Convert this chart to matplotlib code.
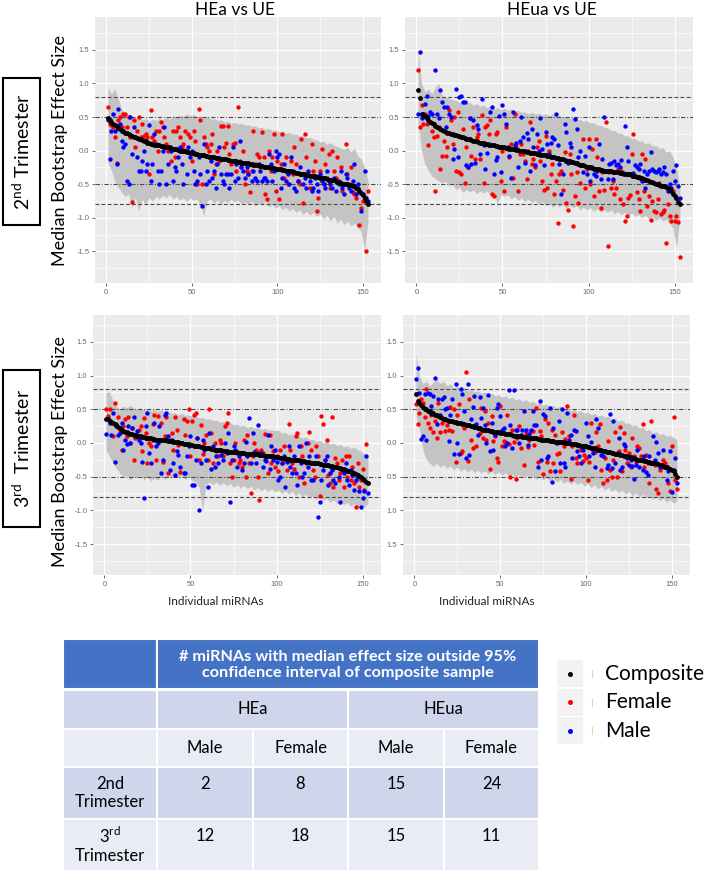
import matplotlib.pyplot as plt
import numpy as np
from matplotlib.patches import Rectangle

plt.rcParams['font.family'] = ['Lato', 'DejaVu Sans']

W, H = 709, 872

# ---- data ----
idx = np.arange(1, 154)
band_x = idx[::2]

comp_a = [0.48, 0.45, 0.42, 0.40, 0.38, 0.36, 0.34, 0.32, 0.30, 0.29,
          0.27, 0.26, 0.25, 0.23, 0.22, 0.21, 0.20, 0.19, 0.18, 0.17,
          0.16, 0.15, 0.14, 0.12, 0.11, 0.10, 0.10, 0.09, 0.09, 0.08,
          0.08, 0.07, 0.07, 0.06, 0.05, 0.05, 0.04, 0.04, 0.03, 0.02,
          0.02, 0.01, 0.00, 0.00, -0.01, -0.01, -0.02, -0.02, -0.03, -0.04,
          -0.04, -0.05, -0.05, -0.06, -0.06, -0.07, -0.07, -0.08, -0.08, -0.09,
          -0.09, -0.10, -0.10, -0.11, -0.11, -0.11, -0.12, -0.12, -0.13, -0.13,
          -0.14, -0.14, -0.15, -0.15, -0.16, -0.16, -0.17, -0.17, -0.18, -0.18,
          -0.19, -0.19, -0.19, -0.20, -0.20, -0.21, -0.21, -0.22, -0.22, -0.23,
          -0.23, -0.24, -0.24, -0.25, -0.25, -0.26, -0.26, -0.26, -0.27, -0.27,
          -0.28, -0.28, -0.29, -0.29, -0.30, -0.30, -0.31, -0.31, -0.32, -0.32,
          -0.33, -0.33, -0.34, -0.34, -0.35, -0.35, -0.36, -0.36, -0.37, -0.37,
          -0.38, -0.38, -0.39, -0.39, -0.40, -0.40, -0.41, -0.41, -0.42, -0.43,
          -0.43, -0.44, -0.44, -0.45, -0.46, -0.47, -0.48, -0.49, -0.49, -0.50,
          -0.50, -0.51, -0.51, -0.52, -0.53, -0.55, -0.57, -0.60, -0.63, -0.66,
          -0.70, -0.75, -0.80]
hi_a = [0.95, 0.85, 0.92, 0.78, 0.62, 0.55, 0.52, 0.50, 0.47, 0.50,
        0.46, 0.48, 0.44, 0.47, 0.45, 0.48, 0.46, 0.50, 0.47, 0.52,
        0.50, 0.53, 0.51, 0.55, 0.52, 0.54, 0.50, 0.52, 0.49, 0.51,
        0.47, 0.48, 0.45, 0.46, 0.43, 0.44, 0.41, 0.42, 0.40, 0.41,
        0.38, 0.39, 0.36, 0.37, 0.34, 0.35, 0.32, 0.33, 0.30, 0.31,
        0.28, 0.29, 0.26, 0.27, 0.24, 0.25, 0.22, 0.22, 0.19, 0.20,
        0.17, 0.16, 0.13, 0.14, 0.10, 0.12, 0.08, 0.06, 0.04, 0.02,
        0.05, -0.02, 0.04, -0.08, -0.12, -0.25, -0.45]
lo_a = [-0.18, -0.30, -0.45, -0.55, -0.62, -0.68, -0.65, -0.85, -0.70, -0.90,
        -0.72, -0.80, -0.70, -0.75, -0.68, -0.72, -0.66, -0.70, -0.65, -0.72,
        -0.68, -0.74, -0.70, -0.76, -0.70, -0.74, -0.72, -0.80, -0.97, -0.75,
        -0.72, -0.78, -0.73, -0.80, -0.74, -0.78, -0.72, -0.76, -0.74, -0.80,
        -0.76, -0.80, -0.75, -0.82, -0.78, -0.80, -0.76, -0.84, -0.80, -0.86,
        -0.82, -0.88, -0.84, -0.90, -0.86, -0.92, -0.88, -0.95, -0.90, -0.96,
        -0.92, -0.98, -0.94, -1.02, -0.96, -1.05, -0.98, -1.08, -1.02, -1.10,
        -1.05, -1.12, -1.08, -1.15, -1.20, -1.50, -1.05]
fem_a = [0.65, 0.40, 0.38, 0.35, 0.20, -0.18, 0.45, 0.50, 0.35, 0.55,
         0.55, 0.35, 0.50, 0.20, -0.77, 0.45, 0.05, 0.30, 0.50, 0.20,
         0.40, 0.22, 0.25, 0.20, -0.35, 0.60, 0.20, 0.15, 0.30, 0.00,
         0.30, 0.42, 0.35, 0.20, 0.10, 0.00, 0.05, -0.15, 0.30, -0.10,
         0.30, 0.35, 0.20, 0.05, 0.10, 0.30, 0.00, 0.25, 0.20, -0.15,
         0.30, 0.15, -0.50, 0.62, 0.45, -0.50, 0.20, 0.10, 0.05, 0.00,
         0.10, 0.25, -0.35, -0.20, 0.00, -0.15, 0.36, 0.36, 0.05, 0.12,
         0.36, -0.05, -0.20, 0.10, 0.12, -0.30, 0.65, -0.15, -0.25, 0.00,
         -0.50, -0.30, -0.35, -0.62, -0.30, 0.30, -0.20, -0.05, -0.10, -0.25,
         0.28, -0.10, -0.65, -0.72, 0.00, -0.30, -0.10, 0.25, -0.60, -0.15,
         -0.72, -0.20, 0.25, -0.40, -0.10, -0.50, -0.30, -0.15, -0.35, 0.05,
         -0.20, -0.45, -0.50, 0.18, -0.78, 0.25, -0.10, -0.35, -0.55, 0.10,
         -0.30, -0.15, -0.90, -0.70, -0.30, 0.02, -0.50, -0.20, -0.40, -0.05,
         -0.55, 0.00, -0.30, -0.40, -0.10, -0.45, -0.25, -0.60, -0.50, 0.10,
         -0.35, -0.50, -0.25, -0.62, -0.65, -0.70, -0.55, -1.10, -0.85, -0.75,
         -0.72, -1.50, -0.60]
male_a = [0.45, -0.12, 0.30, 0.55, 0.30, -0.20, 0.62, 0.40, 0.15, 0.05,
          0.10, -0.45, -0.50, 0.50, -0.05, 0.35, 0.20, -0.10, -0.30, -0.30,
          -0.15, 0.00, -0.30, -0.20, 0.38, -0.45, -0.20, 0.25, 0.10, -0.30,
          -0.50, -0.30, 0.00, 0.35, -0.50, -0.20, 0.05, 0.00, -0.45, -0.25,
          -0.30, -0.10, 0.05, -0.20, -0.50, 0.00, -0.35, 0.05, -0.10, 0.00,
          -0.30, -0.50, -0.45, -0.10, -0.35, -0.82, 0.10, -0.50, -0.30, -0.45,
          -0.15, -0.40, -0.30, -0.55, -0.20, 0.05, -0.35, -0.45, -0.50, -0.35,
          -0.35, -0.55, -0.35, 0.05, -0.45, -0.20, -0.40, 0.15, -0.25, -0.30,
          -0.40, -0.25, -0.35, -0.20, -0.45, -0.30, -0.40, -0.45, -0.20, -0.30,
          -0.45, -0.40, -0.40, -0.45, -0.05, -0.20, -0.45, -0.30, 0.00, -0.10,
          -0.05, -0.55, -0.40, -0.20, -0.45, -0.35, -0.50, -0.10, -0.30, -0.55,
          -0.60, -0.45, -0.25, -0.35, -0.50, -0.40, -0.55, -0.30, -0.45, -0.60,
          -0.55, -0.40, -0.50, -0.60, -0.35, -0.45, -0.50, -0.55, -0.30, -0.45,
          -0.50, -0.55, -0.40, -0.60, -0.45, -0.50, -0.30, -0.55, -0.65, -0.35,
          -0.40, -0.55, -0.60, -0.45, -0.20, -0.65, -0.50, -0.60, -0.90, -0.65,
          -0.30, -0.70, -0.75]

comp_b = [0.90, 0.78, 0.55, 0.53, 0.51, 0.48, 0.46, 0.43, 0.41, 0.39,
          0.37, 0.35, 0.34, 0.32, 0.31, 0.29, 0.28, 0.27, 0.26, 0.25,
          0.25, 0.24, 0.23, 0.22, 0.22, 0.21, 0.20, 0.19, 0.18, 0.17,
          0.17, 0.16, 0.15, 0.15, 0.14, 0.13, 0.12, 0.12, 0.11, 0.10,
          0.10, 0.09, 0.09, 0.08, 0.08, 0.07, 0.07, 0.06, 0.06, 0.05,
          0.05, 0.04, 0.04, 0.03, 0.03, 0.02, 0.02, 0.01, 0.01, 0.00,
          0.00, -0.01, -0.01, -0.02, -0.02, -0.03, -0.03, -0.04, -0.04, -0.05,
          -0.05, -0.06, -0.06, -0.07, -0.07, -0.08, -0.08, -0.09, -0.10, -0.10,
          -0.11, -0.11, -0.12, -0.13, -0.13, -0.14, -0.15, -0.15, -0.16, -0.17,
          -0.17, -0.18, -0.19, -0.20, -0.21, -0.21, -0.22, -0.23, -0.24, -0.25,
          -0.25, -0.26, -0.27, -0.27, -0.28, -0.28, -0.29, -0.29, -0.30, -0.30,
          -0.31, -0.31, -0.31, -0.32, -0.32, -0.32, -0.32, -0.33, -0.33, -0.33,
          -0.34, -0.34, -0.35, -0.35, -0.36, -0.37, -0.38, -0.39, -0.39, -0.40,
          -0.41, -0.42, -0.43, -0.44, -0.45, -0.46, -0.47, -0.48, -0.49, -0.50,
          -0.51, -0.52, -0.53, -0.53, -0.54, -0.55, -0.57, -0.60, -0.64, -0.68,
          -0.71, -0.76, -0.80]
hi_b = [1.50, 1.00, 0.88, 0.92, 0.85, 0.95, 1.00, 0.82, 0.80, 0.78,
        0.76, 0.75, 0.72, 0.74, 0.70, 0.72, 0.68, 0.70, 0.66, 0.68,
        0.64, 0.66, 0.62, 0.64, 0.61, 0.63, 0.60, 0.62, 0.59, 0.60,
        0.57, 0.58, 0.55, 0.57, 0.54, 0.56, 0.53, 0.55, 0.52, 0.55,
        0.51, 0.53, 0.50, 0.51, 0.48, 0.50, 0.46, 0.47, 0.44, 0.45,
        0.41, 0.42, 0.38, 0.38, 0.35, 0.34, 0.30, 0.30, 0.26, 0.26,
        0.22, 0.22, 0.18, 0.18, 0.14, 0.15, 0.10, 0.12, 0.07, 0.08,
        0.03, 0.05, -0.02, 0.00, -0.10, -0.25, -0.55]
lo_b = [0.40, 0.00, -0.20, -0.30, -0.38, -0.42, -0.45, -0.48, -0.46, -0.52,
        -0.50, -0.58, -0.55, -0.62, -0.58, -0.62, -0.58, -0.64, -0.60, -0.63,
        -0.60, -0.66, -0.62, -0.80, -0.65, -0.68, -0.66, -0.72, -0.68, -0.74,
        -0.70, -0.76, -0.72, -0.78, -0.74, -0.80, -0.76, -0.82, -0.78, -0.84,
        -0.80, -0.84, -0.80, -0.86, -0.82, -0.85, -0.82, -0.88, -0.84, -0.88,
        -0.85, -0.90, -0.86, -0.92, -0.88, -0.92, -0.88, -0.94, -0.90, -0.95,
        -0.92, -0.96, -0.93, -0.98, -0.95, -1.00, -0.96, -1.02, -0.98, -1.04,
        -1.00, -1.05, -1.02, -1.08, -1.15, -1.45, -1.00]
fem_b = [1.20, 0.35, 0.68, 0.40, 0.55, 0.40, 0.08, 0.42, 0.30, 0.20,
         -0.60, 0.22, 0.35, -0.27, -0.08, 0.15, -0.08, 0.05, 0.60, 0.45,
         0.10, 0.50, -0.30, 0.57, -0.32, -0.35, 0.32, -0.48, 0.05, -0.25,
         0.48, -0.08, 0.35, -0.12, 0.20, 0.25, -0.12, 0.53, -0.48, 0.35,
         0.38, 0.25, 0.45, -0.65, -0.68, 0.25, 0.28, 0.05, -0.45, 0.00,
         -0.60, 0.35, 0.02, -0.10, 0.10, -0.40, 0.55, 0.05, -0.60, -0.05,
         0.10, -0.05, -0.15, -0.42, 0.00, 0.42, -0.20, -0.12, -0.25, 0.05,
         0.15, -0.15, -0.45, -0.58, 0.22, -0.55, 0.00, -0.35, -0.20, -0.65,
         -0.45, -1.08, -0.35, -0.30, -0.58, -0.02, -0.78, -0.88, -0.05, -0.35,
         -1.12, -0.68, -0.32, -0.78, -0.48, -0.22, 0.18, -0.55, -0.28, 0.18,
         -0.50, 0.02, -0.68, 0.18, -0.10, -0.60, -0.85, -0.32, -0.58, 0.42,
         -1.42, -0.32, -0.55, -0.45, -0.65, -0.55, -0.28, -0.72, -0.30, -0.80,
         -1.05, -0.98, -0.70, -0.66, -0.05, 0.25, -0.38, -0.62, -0.72, -0.90,
         -0.05, -0.60, -0.12, -0.82, -0.68, -1.03, -0.75, -0.90, -0.92, -0.72,
         -0.48, -0.95, -0.92, -0.88, -1.37, -0.80, -0.98, -1.05, -0.60, -1.05,
         -0.97, -1.06, -1.58]
male_b = [0.55, 1.47, 0.48, 0.55, 0.70, 0.82, 0.52, 0.58, 0.55, 0.40,
          1.20, 0.55, 0.48, 0.90, 0.72, 0.65, 0.35, 0.65, 0.55, 0.50,
          -0.12, 0.03, 0.92, -0.10, 0.80, 0.82, 0.72, 0.73, -0.22, -0.25,
          0.48, -0.20, 0.45, -0.18, 0.38, 0.32, -0.05, 0.77, 0.08, -0.28,
          -0.03, 0.10, 0.58, 0.65, -0.35, -0.14, -0.10, 0.52, -0.32, 0.68,
          0.55, 0.40, 0.05, -0.08, -0.40, 0.57, 0.08, 0.12, -0.25, 0.15,
          0.50, 0.20, -0.18, 0.27, 0.17, -0.30, 0.32, 0.05, -0.22, 0.25,
          0.00, 0.48, 0.03, -0.22, 0.28, 0.10, -0.05, 0.12, 0.20, 0.18,
          0.55, 0.08, -0.20, -0.65, -0.35, 0.40, 0.28, -0.18, 0.12, 0.05,
          0.62, 0.47, 0.32, -0.10, 0.00, -0.22, -0.32, -0.08, -0.35, 0.05,
          -0.45, -0.25, -0.35, -0.38, -0.30, 0.10, -0.42, -0.13, 0.50, -0.30,
          -0.42, -0.20, -0.18, -0.42, -0.15, -0.22, -0.20, -0.25, -0.14, -0.35,
          0.37, 0.05, -0.15, -0.35, -0.38, -0.33, -0.22, -0.25, -0.28, -0.20,
          -0.45, -0.30, -0.55, -0.35, -0.30, -0.02, -0.28, -0.30, -0.32, -0.30,
          -0.28, -0.35, -0.32, -0.25, -0.35, -0.60, -0.50, -0.55, -0.30, -0.45,
          -0.22, -0.52, -0.70]

comp_c = [0.36, 0.35, 0.33, 0.31, 0.30, 0.28, 0.26, 0.24, 0.22, 0.20,
          0.18, 0.17, 0.16, 0.15, 0.14, 0.13, 0.12, 0.12, 0.11, 0.10,
          0.10, 0.09, 0.09, 0.08, 0.08, 0.07, 0.07, 0.06, 0.06, 0.05,
          0.05, 0.05, 0.05, 0.04, 0.04, 0.04, 0.03, 0.03, 0.03, 0.02,
          0.02, 0.01, 0.01, 0.00, 0.00, -0.01, -0.01, -0.02, -0.02, -0.03,
          -0.03, -0.04, -0.04, -0.05, -0.05, -0.06, -0.06, -0.07, -0.07, -0.08,
          -0.08, -0.09, -0.09, -0.10, -0.10, -0.11, -0.11, -0.11, -0.12, -0.12,
          -0.12, -0.13, -0.13, -0.13, -0.14, -0.14, -0.14, -0.15, -0.15, -0.15,
          -0.15, -0.16, -0.16, -0.16, -0.16, -0.17, -0.17, -0.17, -0.17, -0.18,
          -0.18, -0.18, -0.19, -0.19, -0.19, -0.20, -0.20, -0.20, -0.21, -0.21,
          -0.21, -0.22, -0.22, -0.23, -0.23, -0.24, -0.24, -0.25, -0.25, -0.25,
          -0.26, -0.26, -0.26, -0.27, -0.27, -0.27, -0.28, -0.28, -0.28, -0.29,
          -0.29, -0.29, -0.30, -0.30, -0.31, -0.31, -0.32, -0.32, -0.33, -0.33,
          -0.34, -0.34, -0.35, -0.35, -0.36, -0.37, -0.37, -0.38, -0.39, -0.40,
          -0.41, -0.42, -0.43, -0.44, -0.45, -0.46, -0.47, -0.49, -0.51, -0.53,
          -0.55, -0.58, -0.60]
hi_c = [0.75, 0.76, 0.62, 0.55, 0.50, 0.55, 0.52, 0.56, 0.52, 0.50,
        0.52, 0.49, 0.51, 0.48, 0.50, 0.47, 0.49, 0.46, 0.47, 0.44,
        0.45, 0.42, 0.44, 0.41, 0.42, 0.39, 0.40, 0.37, 0.38, 0.35,
        0.36, 0.33, 0.34, 0.31, 0.32, 0.29, 0.30, 0.27, 0.28, 0.25,
        0.26, 0.23, 0.25, 0.22, 0.23, 0.20, 0.22, 0.19, 0.20, 0.18,
        0.19, 0.15, 0.16, 0.12, 0.14, 0.10, 0.11, 0.07, 0.09, 0.05,
        0.06, 0.02, 0.04, 0.00, 0.02, -0.02, 0.00, -0.04, -0.02, -0.06,
        -0.04, -0.08, -0.06, -0.10, -0.12, -0.16, -0.22]
lo_c = [-0.10, -0.20, -0.30, -0.38, -0.45, -0.50, -0.48, -0.55, -0.50, -0.52,
        -0.48, -0.55, -0.50, -0.56, -0.52, -0.55, -0.50, -0.54, -0.49, -0.53,
        -0.48, -0.52, -0.48, -0.54, -0.50, -0.56, -0.58, -0.66, -1.00, -0.62,
        -0.58, -0.62, -0.58, -0.63, -0.59, -0.64, -0.60, -0.66, -0.62, -0.67,
        -0.63, -0.68, -0.64, -0.70, -0.66, -0.71, -0.67, -0.72, -0.68, -0.73,
        -0.70, -0.75, -0.71, -0.76, -0.72, -0.78, -0.74, -0.80, -0.76, -0.82,
        -0.78, -0.84, -0.80, -0.86, -0.82, -0.88, -0.84, -0.90, -0.86, -0.92,
        -0.88, -0.94, -0.90, -0.96, -0.92, -0.95, -0.90]
fem_c = [0.50, 0.40, 0.50, 0.30, 0.10, 0.60, 0.28, 0.38, 0.20, -0.10,
         0.25, 0.35, 0.10, 0.38, 0.00, 0.22, -0.25, 0.08, 0.12, 0.20,
         0.25, -0.12, 0.37, 0.15, -0.30, 0.00, -0.05, 0.28, 0.42, -0.25,
         0.40, 0.05, 0.30, -0.28, 0.10, 0.38, -0.45, 0.05, 0.15, -0.10,
         0.38, 0.20, -0.03, -0.43, 0.00, 0.35, 0.12, 0.32, 0.50, -0.20,
         0.33, 0.42, 0.45, 0.08, -0.25, 0.27, -0.17, 0.00, 0.12, -0.25,
         0.50, 0.15, -0.30, 0.00, -0.12, -0.20, 0.05, 0.00, -0.20, 0.25,
         0.30, 0.44, -0.30, -0.50, -0.25, 0.00, -0.15, -0.30, -0.25, -0.35,
         0.05, -0.50, 0.12, -0.30, -0.75, -0.20, 0.00, -0.10, -0.50, -0.85,
         -0.10, -0.15, 0.13, -0.20, -0.45, 0.12, -0.30, -0.12, -0.35, -0.20,
         -0.42, -0.10, -0.30, -0.05, -0.25, -0.40, 0.28, -0.10, -0.30, -0.38,
         0.10, 0.15, -0.50, -0.05, -0.20, -0.60, -0.30, 0.00, 0.17, -0.10,
         -0.40, -0.50, -0.05, -0.20, -0.78, 0.40, 0.28, -0.25, 0.05, -0.48,
         -0.60, 0.38, -0.65, -0.22, -0.30, -0.55, -0.45, -0.25, -0.65, -0.20,
         -0.50, -0.20, -0.55, -0.35, -0.60, -0.95, -0.30, -0.65, -0.55, -0.38,
         -0.70, -0.02, -0.60]
male_c = [0.13, 0.35, 0.30, 0.12, 0.45, -0.28, 0.25, 0.12, 0.15, 0.30,
          -0.10, 0.05, -0.02, 0.25, 0.00, 0.22, 0.38, 0.10, 0.18, 0.05,
          0.00, -0.28, -0.82, 0.25, 0.45, -0.15, -0.30, 0.05, 0.30, -0.05,
          0.00, 0.25, -0.45, -0.25, 0.42, 0.45, 0.10, -0.40, 0.05, -0.30,
          -0.48, -0.12, -0.18, -0.35, 0.00, -0.44, -0.45, -0.20, -0.05, 0.10,
          -0.62, -0.63, -0.25, 0.08, -1.00, -0.30, 0.05, -0.10, -0.25, -0.65,
          0.15, -0.38, -0.05, -0.35, -0.20, -0.30, -0.10, -0.18, -0.25, 0.00,
          -0.15, 0.15, -0.87, -0.25, -0.05, -0.10, -0.35, -0.20, -0.15, -0.40,
          -0.30, 0.02, -0.20, 0.37, -0.30, 0.15, -0.13, -0.30, 0.27, -0.15,
          -0.15, -0.35, -0.25, -0.27, 0.12, -0.38, -0.05, -0.25, -0.10, -0.28,
          -0.55, -0.50, -0.30, -0.20, -0.65, -0.28, -0.05, -0.35, -0.45, -0.20,
          -0.45, -0.62, -0.05, -0.30, -0.50, -0.45, 0.00, -0.35, -0.20, -0.55,
          -0.55, -0.30, -0.20, -1.10, -0.88, -0.55, -0.40, -0.25, -0.20, -0.62,
          -0.45, -0.40, -0.55, -0.60, -0.35, -0.50, -0.88, -0.40, -0.45, -0.30,
          -0.55, -0.62, -0.40, -0.48, -0.70, -0.55, -0.50, -0.72, -0.95, -0.82,
          -0.72, -0.20, -0.75]

comp_d = [0.73, 0.63, 0.60, 0.56, 0.53, 0.51, 0.50, 0.48, 0.47, 0.45,
          0.44, 0.42, 0.41, 0.40, 0.38, 0.37, 0.36, 0.35, 0.34, 0.33,
          0.33, 0.32, 0.31, 0.31, 0.30, 0.30, 0.29, 0.28, 0.28, 0.27,
          0.26, 0.26, 0.25, 0.25, 0.24, 0.23, 0.22, 0.22, 0.21, 0.20,
          0.20, 0.19, 0.19, 0.18, 0.18, 0.17, 0.17, 0.16, 0.16, 0.15,
          0.15, 0.15, 0.14, 0.14, 0.13, 0.13, 0.12, 0.11, 0.11, 0.10,
          0.10, 0.10, 0.09, 0.09, 0.09, 0.08, 0.08, 0.08, 0.07, 0.07,
          0.07, 0.06, 0.06, 0.05, 0.05, 0.05, 0.04, 0.04, 0.03, 0.03,
          0.03, 0.02, 0.02, 0.02, 0.01, 0.01, 0.01, 0.00, 0.00, 0.00,
          -0.01, -0.01, -0.02, -0.02, -0.03, -0.03, -0.04, -0.04, -0.05, -0.05,
          -0.06, -0.06, -0.07, -0.08, -0.08, -0.09, -0.10, -0.10, -0.11, -0.12,
          -0.12, -0.13, -0.14, -0.14, -0.15, -0.15, -0.16, -0.16, -0.17, -0.18,
          -0.18, -0.19, -0.19, -0.20, -0.21, -0.21, -0.22, -0.23, -0.24, -0.25,
          -0.25, -0.26, -0.26, -0.27, -0.27, -0.28, -0.28, -0.29, -0.29, -0.30,
          -0.30, -0.31, -0.32, -0.33, -0.34, -0.35, -0.36, -0.37, -0.39, -0.40,
          -0.42, -0.46, -0.50]
hi_d = [1.32, 1.00, 0.88, 0.92, 0.85, 0.90, 0.95, 0.88, 0.92, 0.85,
        0.88, 0.82, 0.85, 0.80, 0.82, 0.78, 0.80, 0.76, 0.78, 0.74,
        0.76, 0.72, 0.74, 0.70, 0.72, 0.68, 0.70, 0.66, 0.68, 0.64,
        0.66, 0.62, 0.64, 0.60, 0.62, 0.58, 0.60, 0.56, 0.58, 0.54,
        0.56, 0.52, 0.55, 0.50, 0.52, 0.48, 0.50, 0.46, 0.48, 0.44,
        0.46, 0.42, 0.44, 0.40, 0.42, 0.38, 0.40, 0.35, 0.37, 0.32,
        0.34, 0.29, 0.30, 0.25, 0.27, 0.22, 0.24, 0.18, 0.20, 0.15,
        0.17, 0.12, 0.14, 0.10, 0.12, 0.08, 0.05]
lo_d = [0.40, 0.20, -0.10, -0.25, -0.30, -0.35, -0.30, -0.36, -0.32, -0.38,
        -0.34, -0.40, -0.36, -0.42, -0.38, -0.43, -0.39, -0.44, -0.40, -0.45,
        -0.41, -0.46, -0.42, -0.47, -0.43, -0.48, -0.44, -0.50, -0.46, -0.51,
        -0.47, -0.52, -0.48, -0.53, -0.49, -0.54, -0.50, -0.55, -0.51, -0.57,
        -0.53, -0.58, -0.54, -0.60, -0.56, -0.61, -0.57, -0.62, -0.58, -0.64,
        -0.60, -0.66, -0.62, -0.68, -0.64, -0.70, -0.66, -0.72, -0.68, -0.74,
        -0.70, -0.76, -0.72, -0.78, -0.74, -0.80, -0.76, -0.82, -0.78, -0.84,
        -0.80, -0.86, -0.82, -0.88, -0.84, -0.90, -0.86]
fem_d = [0.58, 0.28, 0.45, 0.65, 0.60, 0.38, 0.80, 0.30, 0.22, 0.42,
         0.17, 0.32, 0.08, 0.60, 0.17, 0.30, 0.34, 0.18, 0.27, 0.20,
         0.54, 0.18, 0.50, -0.28, 0.42, 0.58, -0.15, -0.12, 0.22, 1.05,
         -0.27, 0.65, 0.05, -0.08, 0.25, -0.04, 0.22, 0.15, 0.52, 0.08,
         0.48, 0.05, 0.30, -0.38, 0.40, 0.03, 0.10, -0.23, -0.28, 0.55,
         -0.05, 0.03, 0.02, 0.42, -0.02, -0.50, 0.20, 0.02, -0.53, 0.08,
         0.25, -0.07, 0.10, -0.33, 0.15, -0.06, 0.05, 0.18, 0.18, -0.03,
         0.52, -0.28, 0.18, 0.10, -0.46, 0.36, -0.28, 0.30, -0.42, 0.20,
         -0.30, 0.12, -0.17, -0.15, -0.42, 0.16, -0.04, 0.06, 0.55, 0.10,
         -0.53, -0.05, 0.42, -0.22, -0.30, -0.05, -0.10, -0.27, -0.18, -0.22,
         -0.55, -0.28, 0.30, -0.12, -0.14, 0.17, -0.05, 0.28, -0.40, -0.60,
         -0.23, -0.55, 0.03, -0.40, -0.50, -0.25, 0.17, -0.50, -0.12, 0.23,
         -0.42, 0.15, -0.10, -0.30, -0.15, -0.35, 0.08, -0.20, -0.28, -0.05,
         -0.08, -0.20, 0.28, -0.35, -0.18, -0.30, -0.60, 0.33, -0.28, -0.33,
         -0.68, -0.75, -0.40, -0.35, -0.25, -0.30, -0.35, -0.60, -0.72, -0.05,
         0.38, -0.55, -0.68]
male_d = [0.95, 1.12, 0.74, 0.06, 0.10, 0.72, 0.05, 0.74, 0.72, 0.55,
          0.70, 0.97, 0.28, 0.65, 0.42, 0.65, 0.68, 0.50, 0.52, 0.03,
          0.42, 0.65, -0.17, 0.88, 0.00, -0.17, 0.80, 0.72, 0.47, -0.22,
          0.88, -0.18, 0.35, 0.53, 0.70, 0.28, 0.12, 0.68, 0.37, 0.52,
          0.26, 0.00, 0.71, -0.12, 0.30, -0.10, 0.12, 0.52, 0.58, 0.40,
          0.20, 0.22, -0.05, 0.00, 0.79, 0.27, -0.07, 0.79, 0.20, 0.20,
          0.00, 0.12, 0.20, 0.48, 0.20, -0.03, 0.14, 0.20, 0.48, 0.26,
          0.26, -0.35, 0.62, -0.25, 0.43, 0.40, -0.22, -0.20, 0.52, -0.58,
          0.22, -0.42, 0.00, 0.33, -0.30, 0.50, -0.30, -0.35, 0.45, 0.05,
          0.12, -0.22, 0.20, 0.18, -0.12, -0.20, -0.30, -0.10, -0.05, 0.29,
          0.10, -0.20, 0.02, -0.15, -0.36, 0.35, 0.22, -0.10, -0.18, -0.20,
          -0.12, -0.37, -0.32, 0.43, -0.37, 0.32, -0.30, -0.15, 0.08, -0.40,
          -0.35, -0.02, -0.05, -0.22, -0.33, -0.25, -0.34, -0.53, -0.33, -0.10,
          -0.35, -0.25, -0.40, -0.20, -0.43, -0.48, -0.20, -0.30, 0.10, -0.25,
          0.02, -0.15, -0.35, -0.32, -0.10, -0.35, -0.55, -0.42, -0.12, -0.73,
          -0.40, -0.22, -0.60]

panel_titles = ['HEa vs UE', 'HEua vs UE']
row_labels = ['2$^{\\mathregular{nd}}$ Trimester', '3$^{\\mathregular{rd}}$  Trimester']
ytick_vals = [1.5, 1.0, 0.5, 0.0, -0.5, -1.0, -1.5]
xtick_vals = [0, 50, 100, 150]

table_groups = ['HEa', 'HEua']
table_sexes = ['Male', 'Female', 'Male', 'Female']
table_rows = ['2nd\nTrimester', '3$^{\\mathregular{rd}}$\nTrimester']
table_counts = [[2, 8, 15, 24], [12, 18, 15, 11]]
header_text = '# miRNAs with median effect size outside 95%\nconfidence interval of composite sample'

legend_names = ['Composite', 'Female', 'Male']
legend_colors = ['black', '#FF0000', '#0000FF']


def px_box(x0, y0, x1, y1):
    return [x0 / W, 1 - y1 / H, (x1 - x0) / W, (y1 - y0) / H]


def draw_panel(ax, comp, lo, hi, fem, male, ylim, minus=True):
    ax.set_facecolor('#EBEBEB')
    ax.fill_between(band_x, lo, hi, color='#C4C4C4', lw=0, zorder=1)
    for y in (0.8, -0.8):
        ax.axhline(y, color='#4a4a4a', lw=0.8, ls=(0, (3.5, 2)), zorder=2)
    for y in (0.5, -0.5):
        ax.axhline(y, color='#4a4a4a', lw=0.8, ls=(0, (4, 1.5, 1, 1.5)), zorder=2)
    ax.scatter(idx, fem, s=10, color='#FF0000', lw=0, zorder=3)
    ax.scatter(idx, male, s=10, color='#0000FF', lw=0, zorder=3)
    ax.scatter(idx, comp, s=12, color='black', lw=0, zorder=4)
    ax.set_xlim(-6.6, 160.6)
    ax.set_ylim(*ylim)
    ax.set_xticks(xtick_vals)
    ax.set_xticks([25, 75, 125], minor=True)
    ax.set_yticks(ytick_vals)
    ax.set_yticks([1.75, 1.25, 0.75, 0.25, -0.25, -0.75, -1.25, -1.75], minor=True)
    labels = ['%.1f' % v for v in ytick_vals]
    if not minus:
        labels = [l.lstrip('-') for l in labels]
    ax.set_yticklabels(labels)
    ax.grid(which='major', color='white', lw=0.9)
    ax.grid(which='minor', color='white', lw=0.45)
    ax.set_axisbelow(True)
    for s in ax.spines.values():
        s.set_visible(False)
    ax.tick_params(which='major', length=2.5, width=0.6, color='#555555',
                   labelsize=5.5, labelcolor='#6a6a6a', pad=1.5)
    ax.tick_params(which='minor', length=0)
    for lab in ax.get_xticklabels() + ax.get_yticklabels():
        lab.set_family('Liberation Sans')


fig = plt.figure(figsize=(W / 100, H / 100), dpi=100)

ax1 = fig.add_axes(px_box(95, 17, 381, 283))
ax2 = fig.add_axes(px_box(405, 17, 693, 283))
ax3 = fig.add_axes(px_box(93, 315, 381, 575))
ax4 = fig.add_axes(px_box(403, 315, 690, 575))
draw_panel(ax1, comp_a, lo_a, hi_a, fem_a, male_a, (-1.97, 1.99))
draw_panel(ax2, comp_b, lo_b, hi_b, fem_b, male_b, (-1.97, 1.99))
draw_panel(ax3, comp_c, lo_c, hi_c, fem_c, male_c, (-1.96, 1.90))
draw_panel(ax4, comp_d, lo_d, hi_d, fem_d, male_d, (-1.96, 1.90), minus=False)

# overlay in pixel coordinates for labels, table and legend
ov = fig.add_axes([0, 0, 1, 1])
ov.set_xlim(0, W)
ov.set_ylim(H, 0)
ov.axis('off')
ov.patch.set_alpha(0)

ov.text(235, 10, panel_titles[0], ha='center', va='center', fontsize=12.5)
ov.text(552, 10, panel_titles[1], ha='center', va='center', fontsize=12.5)

for yc, (yb0, yb1), lab in [(150, (78, 225), row_labels[0]), (451, (370, 527), row_labels[1])]:
    ov.text(60, yc, 'Median Bootstrap Effect Size', rotation=90, ha='center', va='center', fontsize=13)
    ov.add_patch(Rectangle((3, yb0), 37, yb1 - yb0, fill=False, ec='black', lw=1.5))
    ov.text(22, (yb0 + yb1) / 2, lab, rotation=90, ha='center', va='center', fontsize=14)

ov.text(216, 601, 'Individual miRNAs', ha='center', va='center', fontsize=8.5, color='#222222')
ov.text(487, 601, 'Individual miRNAs', ha='center', va='center', fontsize=8.5, color='#222222')

# table
col_edges = [63, 157, 253, 348, 444, 539]
row_edges = [(639, 689), (690, 729), (729, 767), (767, 819), (819, 871)]
row_fill = ['#4472C4', '#CFD5EA', '#E9EBF5', '#CFD5EA', '#E9EBF5']
for (y0, y1), fc in zip(row_edges, row_fill):
    for c in range(5):
        ov.add_patch(Rectangle((col_edges[c], y0), col_edges[c + 1] - col_edges[c], y1 - y0,
                               fc=fc, ec='white', lw=1.5))
ov.add_patch(Rectangle((col_edges[1], 639), col_edges[5] - col_edges[1], 50, fc='#4472C4', ec='white', lw=1.5))
ov.add_patch(Rectangle((col_edges[1], 690), col_edges[3] - col_edges[1], 39, fc='#CFD5EA', ec='white', lw=1.5))
ov.add_patch(Rectangle((col_edges[3], 690), col_edges[5] - col_edges[3], 39, fc='#CFD5EA', ec='white', lw=1.5))
ov.text((col_edges[1] + col_edges[5]) / 2, 665, header_text, ha='center', va='center',
        fontsize=11.7, fontweight='bold', color='white', linespacing=1.15)
for g, name in enumerate(table_groups):
    ov.text((col_edges[1 + 2 * g] + col_edges[3 + 2 * g]) / 2, 709, name, ha='center', va='center', fontsize=12)
for c, name in enumerate(table_sexes):
    ov.text((col_edges[c + 1] + col_edges[c + 2]) / 2, 748, name, ha='center', va='center', fontsize=12)
for r, (y0, y1) in enumerate(row_edges[3:]):
    ov.text((col_edges[0] + col_edges[1]) / 2, (y0 + y1) / 2, table_rows[r], ha='center', va='center',
            fontsize=12, linespacing=1.15)
    for c, v in enumerate(table_counts[r]):
        ov.text((col_edges[c + 1] + col_edges[c + 2]) / 2, y0 + 17, str(v), ha='center', va='center', fontsize=12)

# legend
for k, (name, colr) in enumerate(zip(legend_names, legend_colors)):
    y0 = 660 + 28.5 * k
    ov.add_patch(Rectangle((557, y0), 26, 27, fc='#F2F2F2', ec='none'))
    ov.plot([570], [y0 + 13.5], 'o', color=colr, ms=3.6, mec='none')
    ov.plot([592, 592], [y0 + 10, y0 + 17], color='#F6CFA0', lw=0.8)
    ov.text(605, y0 + 13.5, name, ha='left', va='center', fontsize=15)

fig.savefig('out.png', dpi=100)
